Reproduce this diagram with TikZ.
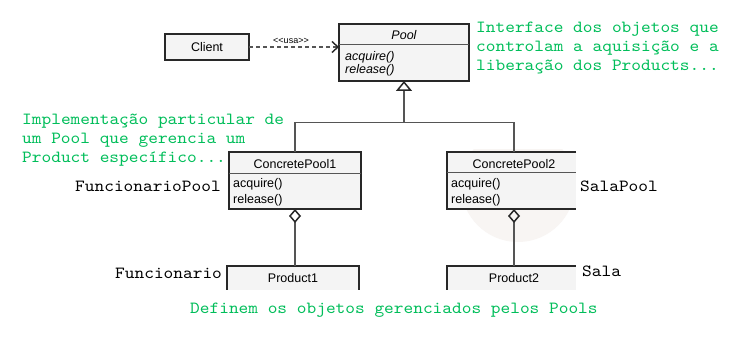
\documentclass[tikz,border=0pt]{standalone}
\usepackage{fontspec}
\setmainfont{Liberation Sans}
\newfontfamily\codefont{lmmono10-regular.otf}[FakeStretch=1.087]
\usetikzlibrary{arrows.meta}
\definecolor{notegreen}{RGB}{0,190,90}
\definecolor{boxfill}{RGB}{244,244,244}
\definecolor{edge}{RGB}{40,40,40}
\definecolor{wire}{RGB}{85,85,85}
\definecolor{halo}{RGB}{248,245,243}

\begin{document}
\begin{tikzpicture}[x=1pt,y=-1pt,
  classbox/.style={fill=boxfill, draw=edge, line width=1.1pt, inner sep=0, outer sep=0},
  openbox/.style={inner sep=0, outer sep=0},
  border/.style={draw=edge, line width=1.1pt},
  divider/.style={draw=wire, line width=1pt},
  wirestyle/.style={draw=wire, line width=1.2pt},
  uml/.style={font=\fontsize{12.5}{14}\selectfont, inner sep=0},
  umlit/.style={font=\fontsize{12.5}{14}\selectfont\itshape, inner sep=0},
  note/.style={font=\codefont\fontsize{17}{19}\selectfont, text=notegreen, inner sep=0, anchor=base west},
  tag/.style={font=\codefont\fontsize{17}{19}\selectfont, text=black, inner sep=0, anchor=base west},
  aggr/.style={{Diamond[open,length=14pt,width=12pt,line width=1.5pt,color=edge]}-},
]
\useasboundingbox[fill=white] (0,0) rectangle (730,344);

% soft shading behind the second concrete pool
\begin{scope}
  \clip (440,150) rectangle (576,262);
  \fill[halo] (518,185) circle[radius=57];
\end{scope}

% client and the abstract pool
\node[classbox, uml, minimum width=84pt, minimum height=26pt] (client) at (207,47) {Client};

\node[classbox, minimum width=130pt, minimum height=57pt] (pool) at (404,52.5) {};
\draw[divider] ([yshift=-21pt]pool.north west) -- ([yshift=-21pt]pool.north east);
\node[umlit, anchor=base] (poolname) at (404,39.5) {Pool};
\node[umlit, anchor=base west] (poolacq) at (345,61) {acquire()};
\node[umlit, anchor=base west] (poolrel) at (345,74) {release()};

% first concrete pool
\node[classbox, minimum width=132pt, minimum height=57pt] (cp1) at (295,180.5) {};
\draw[divider] ([yshift=-22pt]cp1.north west) -- ([yshift=-22pt]cp1.north east);
\node[uml, anchor=base] (cp1name) at (295,168.5) {ConcretePool1};
\node[uml, anchor=base west] (cp1acq) at (233,188) {acquire()};
\node[uml, anchor=base west] (cp1rel) at (233,203.5) {release()};

% second concrete pool (right edge left open)
\node[openbox, minimum width=134pt, minimum height=57pt] (cp2) at (514,180.5) {};
\fill[boxfill] (cp2.north west) rectangle ([xshift=-5pt]cp2.south east);
\draw[border] ([xshift=-5pt]cp2.north east) -- (cp2.north west) -- (cp2.south west) -- ([xshift=-5pt]cp2.south east);
\draw[divider] ([yshift=-21pt]cp2.north west) -- ([xshift=-5pt,yshift=-21pt]cp2.north east);
\node[uml, anchor=base] (cp2name) at (514,168.5) {ConcretePool2};
\node[uml, anchor=base west] (cp2acq) at (451,188) {acquire()};
\node[uml, anchor=base west] (cp2rel) at (451,203.5) {release()};

% products (cut at the bottom)
\node[openbox, minimum width=132pt, minimum height=24pt] (prod1) at (293,278) {};
\fill[boxfill] (prod1.north west) rectangle (prod1.south east);
\draw[border] (prod1.south west) -- (prod1.north west) -- (prod1.north east) -- (prod1.south east);
\node[uml, anchor=base] (prod1name) at (293,282.5) {Product1};

\node[openbox, minimum width=134pt, minimum height=24pt] (prod2) at (514,278) {};
\fill[boxfill] (prod2.north west) rectangle ([xshift=-5pt]prod2.south east);
\draw[border] (prod2.south west) -- (prod2.north west) -- ([xshift=-5pt]prod2.north east);
\node[uml, anchor=base] (prod2name) at (514,282.5) {Product2};

% dependency
\draw[wirestyle, dash pattern=on 4pt off 3pt,
  -{Straight Barb[length=6pt,width=11pt,line width=1.4pt,color=edge]}]
  (client.east) -- (client.east -| pool.west);
\node[font=\fontsize{9}{10}\selectfont, inner sep=0] (usa) at (291,41) {<{}<usa>{}>};

% generalization
\coordinate (fork) at (404,122.5);
\draw[wirestyle, -{Triangle[open,length=10pt,width=16pt,line width=1.5pt,color=edge]}] (fork) -- (pool.south);
\draw[wirestyle] (cp1.north) |- (fork) -| (cp2.north);

% aggregation
\draw[wirestyle, aggr] (cp1.south) -- (cp1.south |- prod1.north);
\draw[wirestyle, aggr] (cp2.south) -- (cp2.south |- prod2.north);

% annotations
\node[note] (n1a) at (476,32.7) {Interface dos objetos que};
\node[note] (n1b) at (476,51.7) {controlam a aquisição e a};
\node[note] (n1c) at (476,70.7) {liberação dos Products...};

\node[note] (n2a) at (22,125) {Implementação particular de};
\node[note] (n2b) at (22,144) {um Pool que gerencia um};
\node[note] (n2c) at (22,163) {Product específico...};

\node[note] (n3) at (190,313) {Definem os objetos gerenciados pelos Pools};

\node[tag] (t1) at (75,192) {FuncionarioPool};
\node[tag] (t2) at (580,192) {SalaPool};
\node[tag] (t3) at (115,279) {Funcionario};
\node[tag] (t4) at (582,277) {Sala};
\end{tikzpicture}
\end{document}
